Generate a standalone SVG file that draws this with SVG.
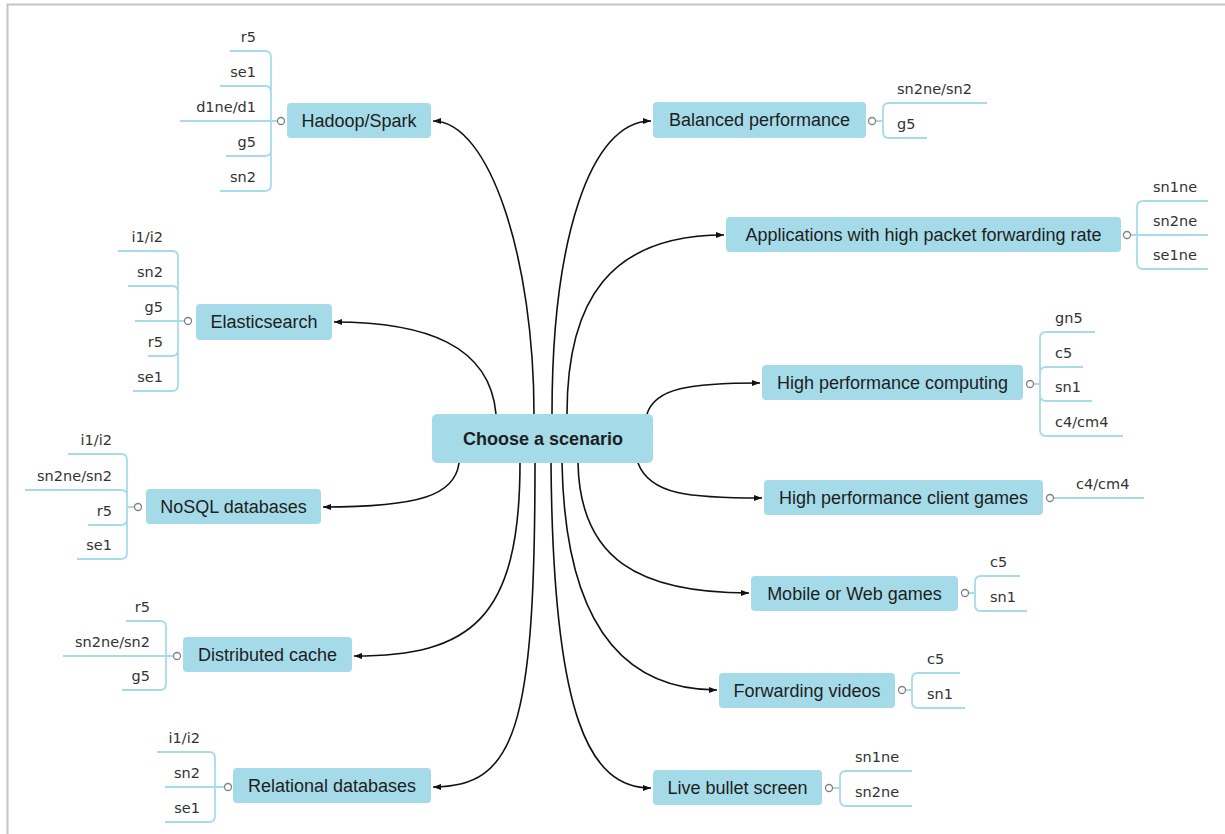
<svg xmlns="http://www.w3.org/2000/svg" width="1225" height="834" viewBox="0 0 1225 834">
<style>
.box{fill:#a5dbe8;}
.nt{font-family:"Liberation Sans",Arial,sans-serif;font-size:18px;fill:#1e1e1e;text-anchor:middle;}
.ct{font-family:"Liberation Sans",Arial,sans-serif;font-size:18px;font-weight:bold;fill:#1e1e1e;text-anchor:middle;}
.lf{fill:none;stroke:#a6dcea;stroke-width:1.8;}
.lt{font-family:"DejaVu Sans",sans-serif;font-size:14.5px;fill:#333;}
.r{text-anchor:end;}
.dot{fill:#fff;stroke:#808080;stroke-width:1.3;}
.cn{fill:none;stroke:#111;stroke-width:1.6;}
</style>
<defs>
<marker id="ah" viewBox="0 0 8 6" refX="8" refY="3" markerWidth="8" markerHeight="6" markerUnits="userSpaceOnUse" orient="auto">
<path d="M0,0 L8,3 L0,6 z" fill="#111"/>
</marker>
</defs>
<rect x="0" y="0" width="1225" height="834" fill="#fff"/>
<path d="M7.5,834 L7.5,4.5 L1225,4.5" fill="none" stroke="#c4c4c4" stroke-width="2"/>

<g id="connectors">
<path class="cn" marker-end="url(#ah)" d="M534,414 C534,260 490,121 433,121"/>
<path class="cn" marker-end="url(#ah)" d="M496,414 C490,345 425,322 334,322"/>
<path class="cn" marker-end="url(#ah)" d="M459,463 C455,495 420,507 323,507"/>
<path class="cn" marker-end="url(#ah)" d="M520,463 C520,620 470,656 354,656"/>
<path class="cn" marker-end="url(#ah)" d="M535,463 C535,730 515,787 433,787"/>
<path class="cn" marker-end="url(#ah)" d="M552,414 C552,240 590,121 651,121"/>
<path class="cn" marker-end="url(#ah)" d="M567,414 C567,300 610,235 724,235"/>
<path class="cn" marker-end="url(#ah)" d="M647,414 C655,388 690,383 760,383"/>
<path class="cn" marker-end="url(#ah)" d="M638,463 C650,495 690,498 762,498"/>
<path class="cn" marker-end="url(#ah)" d="M578,463 C580,560 640,593 749,593"/>
<path class="cn" marker-end="url(#ah)" d="M562,463 C565,620 620,690 717,690"/>
<path class="cn" marker-end="url(#ah)" d="M551,463 C553,720 590,788 651,788"/>
</g>

<g id="center">
<rect class="box" x="432" y="414" width="221" height="49" rx="5"/>
<text class="ct" x="543" y="445">Choose a scenario</text>
</g>

<g id="hadoop">
<rect class="box" x="287" y="103" width="144" height="35" rx="4"/>
<text class="nt" x="359" y="127">Hadoop/Spark</text>
<path class="lf" d="M277,121 L180,121 M271,121 L271,57 Q271,51 265,51 L230,51 M271,121 L271,92 Q271,86 265,86 L220,86 M271,121 L271,150 Q271,156 265,156 L226,156 M271,121 L271,185 Q271,191 265,191 L220,191"/>
<circle class="dot" cx="281" cy="121" r="3.5"/>
<text class="lt r" x="256" y="42">r5</text>
<text class="lt r" x="256" y="77">se1</text>
<text class="lt r" x="256" y="112">d1ne/d1</text>
<text class="lt r" x="256" y="147">g5</text>
<text class="lt r" x="256" y="182">sn2</text>
</g>

<g id="elasticsearch">
<rect class="box" x="196" y="304" width="136" height="36" rx="4"/>
<text class="nt" x="264" y="328">Elasticsearch</text>
<path class="lf" d="M184,321 L135,321 M178,321 L178,257 Q178,251 172,251 L118,251 M178,321 L178,292 Q178,286 172,286 L128,286 M178,321 L178,350 Q178,356 172,356 L148,356 M178,321 L178,385 Q178,391 172,391 L133,391"/>
<circle class="dot" cx="188" cy="321" r="3.5"/>
<text class="lt r" x="163" y="242">i1/i2</text>
<text class="lt r" x="163" y="277">sn2</text>
<text class="lt r" x="163" y="312">g5</text>
<text class="lt r" x="163" y="347">r5</text>
<text class="lt r" x="163" y="382">se1</text>
</g>

<g id="nosql">
<rect class="box" x="146" y="489" width="175" height="35" rx="4"/>
<text class="nt" x="233.5" y="513">NoSQL databases</text>
<path class="lf" d="M134,507 L127,507 M127,507 L127,460 Q127,454 121,454 L68,454 M127,507 L127,496 Q127,490 121,490 L25,490 M127,507 L127,519 Q127,525 121,525 L88,525 M127,507 L127,553 Q127,559 121,559 L77,559"/>
<circle class="dot" cx="138" cy="507" r="3.5"/>
<text class="lt r" x="112" y="445">i1/i2</text>
<text class="lt r" x="112" y="481">sn2ne/sn2</text>
<text class="lt r" x="112" y="516">r5</text>
<text class="lt r" x="112" y="550">se1</text>
</g>

<g id="cache">
<rect class="box" x="183" y="637" width="169" height="35" rx="4"/>
<text class="nt" x="267.5" y="661">Distributed cache</text>
<path class="lf" d="M173,656 L63,656 M166,656 L166,627 Q166,621 160,621 L126,621 M166,656 L166,684 Q166,690 160,690 L122,690"/>
<circle class="dot" cx="177" cy="656" r="3.5"/>
<text class="lt r" x="150" y="612">r5</text>
<text class="lt r" x="150" y="647">sn2ne/sn2</text>
<text class="lt r" x="150" y="681">g5</text>
</g>

<g id="relational">
<rect class="box" x="233" y="768" width="198" height="35" rx="4"/>
<text class="nt" x="332" y="792">Relational databases</text>
<path class="lf" d="M224,787 L165,787 M215,787 L215,758 Q215,752 209,752 L157,752 M215,787 L215,816 Q215,822 209,822 L165,822"/>
<circle class="dot" cx="228" cy="787" r="3.5"/>
<text class="lt r" x="200" y="743">i1/i2</text>
<text class="lt r" x="200" y="778">sn2</text>
<text class="lt r" x="200" y="813">se1</text>
</g>

<g id="balanced">
<rect class="box" x="653" y="102" width="213" height="36" rx="4"/>
<text class="nt" x="759.5" y="126">Balanced performance</text>
<path class="lf" d="M876,121 L883,121 M883,121 L883,109 Q883,103 889,103 L987,103 M883,121 L883,132 Q883,138 889,138 L927,138"/>
<circle class="dot" cx="872" cy="121" r="3.5"/>
<text class="lt" x="897" y="94">sn2ne/sn2</text>
<text class="lt" x="897" y="129">g5</text>
</g>

<g id="applications">
<rect class="box" x="726" y="217" width="395" height="35" rx="4"/>
<text class="nt" x="923.5" y="241">Applications with high packet forwarding rate</text>
<path class="lf" d="M1131,235 L1208,235 M1137,235 L1137,207 Q1137,201 1143,201 L1208,201 M1137,235 L1137,263 Q1137,269 1143,269 L1208,269"/>
<circle class="dot" cx="1127" cy="235" r="3.5"/>
<text class="lt" x="1153" y="192">sn1ne</text>
<text class="lt" x="1153" y="226">sn2ne</text>
<text class="lt" x="1153" y="260">se1ne</text>
</g>

<g id="hpc">
<rect class="box" x="762" y="365" width="261" height="35" rx="4"/>
<text class="nt" x="892.5" y="389">High performance computing</text>
<path class="lf" d="M1034,384 L1040,384 M1040,384 L1040,338 Q1040,332 1046,332 L1095,332 M1040,384 L1040,373 Q1040,367 1046,367 L1083,367 M1040,384 L1040,395 Q1040,401 1046,401 L1092,401 M1040,384 L1040,430 Q1040,436 1046,436 L1123,436"/>
<circle class="dot" cx="1030" cy="384" r="3.5"/>
<text class="lt" x="1055" y="323">gn5</text>
<text class="lt" x="1055" y="358">c5</text>
<text class="lt" x="1055" y="392">sn1</text>
<text class="lt" x="1055" y="427">c4/cm4</text>
</g>

<g id="hpcgames">
<rect class="box" x="764" y="480" width="279" height="35" rx="4"/>
<text class="nt" x="903.5" y="504">High performance client games</text>
<path class="lf" d="M1054,498 L1144,498"/>
<circle class="dot" cx="1050" cy="498" r="3.5"/>
<text class="lt" x="1076" y="489">c4/cm4</text>
</g>

<g id="mobile">
<rect class="box" x="751" y="576" width="207" height="35" rx="4"/>
<text class="nt" x="854.5" y="600">Mobile or Web games</text>
<path class="lf" d="M969,593 L975,593 M975,593 L975,582 Q975,576 981,576 L1020,576 M975,593 L975,605 Q975,611 981,611 L1027,611"/>
<circle class="dot" cx="965" cy="593" r="3.5"/>
<text class="lt" x="990" y="567">c5</text>
<text class="lt" x="990" y="602">sn1</text>
</g>

<g id="videos">
<rect class="box" x="719" y="673" width="176" height="35" rx="4"/>
<text class="nt" x="807" y="697">Forwarding videos</text>
<path class="lf" d="M906,690 L912,690 M912,690 L912,679 Q912,673 918,673 L960,673 M912,690 L912,702 Q912,708 918,708 L965,708"/>
<circle class="dot" cx="902" cy="690" r="3.5"/>
<text class="lt" x="927" y="664">c5</text>
<text class="lt" x="927" y="699">sn1</text>
</g>

<g id="bullet">
<rect class="box" x="653" y="770" width="169" height="35" rx="4"/>
<text class="nt" x="737.5" y="794">Live bullet screen</text>
<path class="lf" d="M833,788 L840,788 M840,788 L840,777 Q840,771 846,771 L912,771 M840,788 L840,800 Q840,806 846,806 L912,806"/>
<circle class="dot" cx="829" cy="788" r="3.5"/>
<text class="lt" x="855" y="762">sn1ne</text>
<text class="lt" x="855" y="797">sn2ne</text>
</g>
</svg>
